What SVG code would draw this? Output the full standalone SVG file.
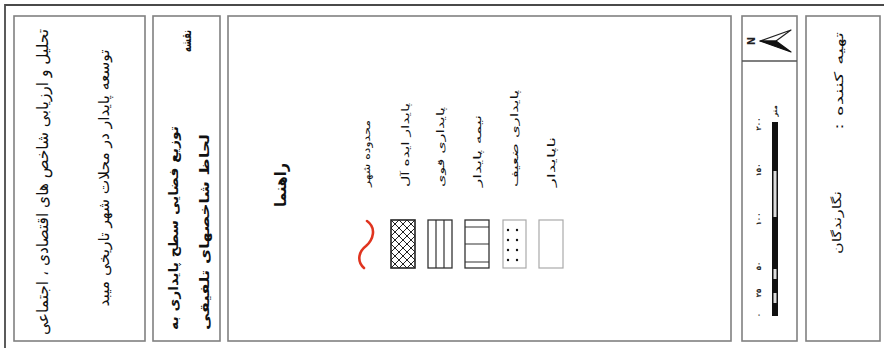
<svg xmlns="http://www.w3.org/2000/svg" width="884" height="348" viewBox="0 0 884 348">
<style>
.panel{fill:#fff;stroke:#808080;stroke-width:1.6}
.outer{fill:none;stroke:#4a4a4a;stroke-width:1.8}
.t{font-family:"DejaVu Sans",sans-serif;fill:#111;dominant-baseline:central}
.b{font-weight:bold}
.sym{fill:#fff;stroke:#333;stroke-width:1.3}
.lt{fill:#fff;stroke:#aaa;stroke-width:1.2}
.ln{stroke:#333;stroke-width:1.2}
</style>
<defs>
<pattern id="hatch" patternUnits="userSpaceOnUse" x="391" y="220" width="8" height="8">
<path d="M0,0 L8,8 M8,0 L0,8" stroke="#222" stroke-width="1"/>
</pattern>
</defs>
<rect width="884" height="348" fill="#fff"/>
<path class="outer" d="M5,348 V5 H884"/>

<g id="panel-title">
<rect class="panel" x="14" y="16" width="131" height="325"/>
<text class="t" font-size="16" text-anchor="middle" transform="translate(42,182) rotate(-90)" textLength="306" lengthAdjust="spacingAndGlyphs">تحلیل و ارزیابی شاخص های اقتصادی ، اجتماعی</text>
<text class="t" font-size="15" text-anchor="middle" transform="translate(104,178) rotate(-90)" textLength="257" lengthAdjust="spacingAndGlyphs">توسعه پایدار در محلات شهر تاریخی میبد</text>
</g>

<g id="panel-map-title">
<rect class="panel" x="153" y="16" width="67" height="325"/>
<text class="t b" font-size="13" text-anchor="start" direction="rtl" transform="translate(186,30) rotate(-90)" textLength="22" lengthAdjust="spacingAndGlyphs">نقشه</text>
<text class="t b" font-size="13" text-anchor="start" transform="translate(173,330) rotate(-90)" textLength="204" lengthAdjust="spacingAndGlyphs">توزیع فضایی سطح پایداری به</text>
<text class="t b" font-size="13" text-anchor="start" transform="translate(204,330) rotate(-90)" textLength="196" lengthAdjust="spacingAndGlyphs">لحاظ شاخصهای تلفیقی</text>
</g>

<g id="panel-legend">
<rect class="panel" x="228" y="16" width="503" height="325"/>
<text class="t b" font-size="16" text-anchor="middle" transform="translate(280,185) rotate(-90)" textLength="44" lengthAdjust="spacingAndGlyphs">راهنما</text>
<g id="legend-city">
<text class="t" font-size="10" text-anchor="start" transform="translate(366,187) rotate(-90)" textLength="67" lengthAdjust="spacingAndGlyphs">محدوده شهر</text>
<path d="M367,221 C377,228 373,240 366,246 C358,252 357,262 364,268" fill="none" stroke="#e0341f" stroke-width="2.6" stroke-linecap="round"/>
</g>
<g id="legend-ideal">
<text class="t" font-size="10" text-anchor="start" transform="translate(405,187) rotate(-90)" textLength="84" lengthAdjust="spacingAndGlyphs">پایدار ایده آل</text>
<rect x="391" y="220" width="24" height="48" fill="url(#hatch)" stroke="#222" stroke-width="1.6"/>
</g>
<g id="legend-strong">
<text class="t" font-size="10" text-anchor="start" transform="translate(440,187) rotate(-90)" textLength="80" lengthAdjust="spacingAndGlyphs">پایداری قوی</text>
<rect class="sym" x="428" y="220" width="24" height="48"/>
<path class="ln" d="M436,220 V268 M444,220 V268"/>
</g>
<g id="legend-semi">
<text class="t" font-size="10" text-anchor="start" transform="translate(477,187) rotate(-90)" textLength="72" lengthAdjust="spacingAndGlyphs">نیمه پایدار</text>
<rect class="sym" x="465" y="220" width="24" height="48"/>
<path class="ln" d="M465,227 H489 M465,244 H489 M465,262 H489"/>
</g>
<g id="legend-weak">
<text class="t" font-size="10" text-anchor="start" transform="translate(514,187) rotate(-90)" textLength="97" lengthAdjust="spacingAndGlyphs">پایداری ضعیف</text>
<rect class="lt" x="503" y="220" width="23" height="48"/>
<g fill="#111">
<circle cx="508" cy="230" r="1.2"/><circle cx="517" cy="230" r="1.2"/>
<circle cx="508" cy="240" r="1.2"/><circle cx="517" cy="240" r="1.2"/>
<circle cx="508" cy="250" r="1.2"/><circle cx="517" cy="250" r="1.2"/>
<circle cx="508" cy="260" r="1.2"/><circle cx="517" cy="260" r="1.2"/>
</g>
</g>
<g id="legend-unsustainable">
<text class="t" font-size="10" text-anchor="start" transform="translate(551,187) rotate(-90)" textLength="50" lengthAdjust="spacingAndGlyphs">ناپایدار</text>
<rect class="lt" x="539" y="220" width="24" height="48"/>
</g>
</g>

<g id="panel-north-scale">
<rect class="panel" x="742" y="16" width="55" height="325"/>
<line x1="742" y1="61" x2="797" y2="61" stroke="#555" stroke-width="1.4"/>
<g id="north-arrow">
<text font-family="DejaVu Sans,sans-serif" font-size="10" font-weight="bold" fill="#222" text-anchor="middle" dominant-baseline="central" transform="translate(751,41) rotate(-90)">N</text>
<path d="M760,41 L791,30 L776,41 Z" fill="#fff" stroke="#222" stroke-width="1.2" stroke-linejoin="round"/>
<path d="M760,41 L791,52 L776,41 Z" fill="#111" stroke="#111" stroke-width="1.2" stroke-linejoin="round"/>
</g>
<g id="scale-bar">
<rect x="772" y="122" width="6" height="194" fill="#111"/>
<rect x="773.5" y="171" width="3" height="46" fill="#ddd"/>
<rect x="773.5" y="269" width="3" height="10" fill="#ddd"/>
<rect x="773.5" y="293" width="3" height="10" fill="#ddd"/>
<g font-family="DejaVu Sans,sans-serif" font-size="7" font-weight="bold" fill="#222" text-anchor="middle" dominant-baseline="central">
<text transform="translate(775,111) rotate(-90)">متر</text>
<text transform="translate(759,124) rotate(-90)">۲۰۰</text>
<text transform="translate(759,170) rotate(-90)">۱۵۰</text>
<text transform="translate(759,219) rotate(-90)">۱۰۰</text>
<text transform="translate(759,266) rotate(-90)">۵۰</text>
<text transform="translate(759,293) rotate(-90)">۲۵</text>
<text transform="translate(759,315) rotate(-90)">۰</text>
</g>
</g>
</g>

<g id="panel-author">
<rect class="panel" x="806" y="16" width="74" height="325"/>
<text class="t" font-size="12" text-anchor="start" direction="rtl" transform="translate(839,32) rotate(-90)" textLength="98" lengthAdjust="spacingAndGlyphs">تهیه کننده :</text>
<text class="t" font-size="12" text-anchor="start" transform="translate(837,254) rotate(-90)" textLength="63" lengthAdjust="spacingAndGlyphs">نگارندگان</text>
</g>
</svg>
